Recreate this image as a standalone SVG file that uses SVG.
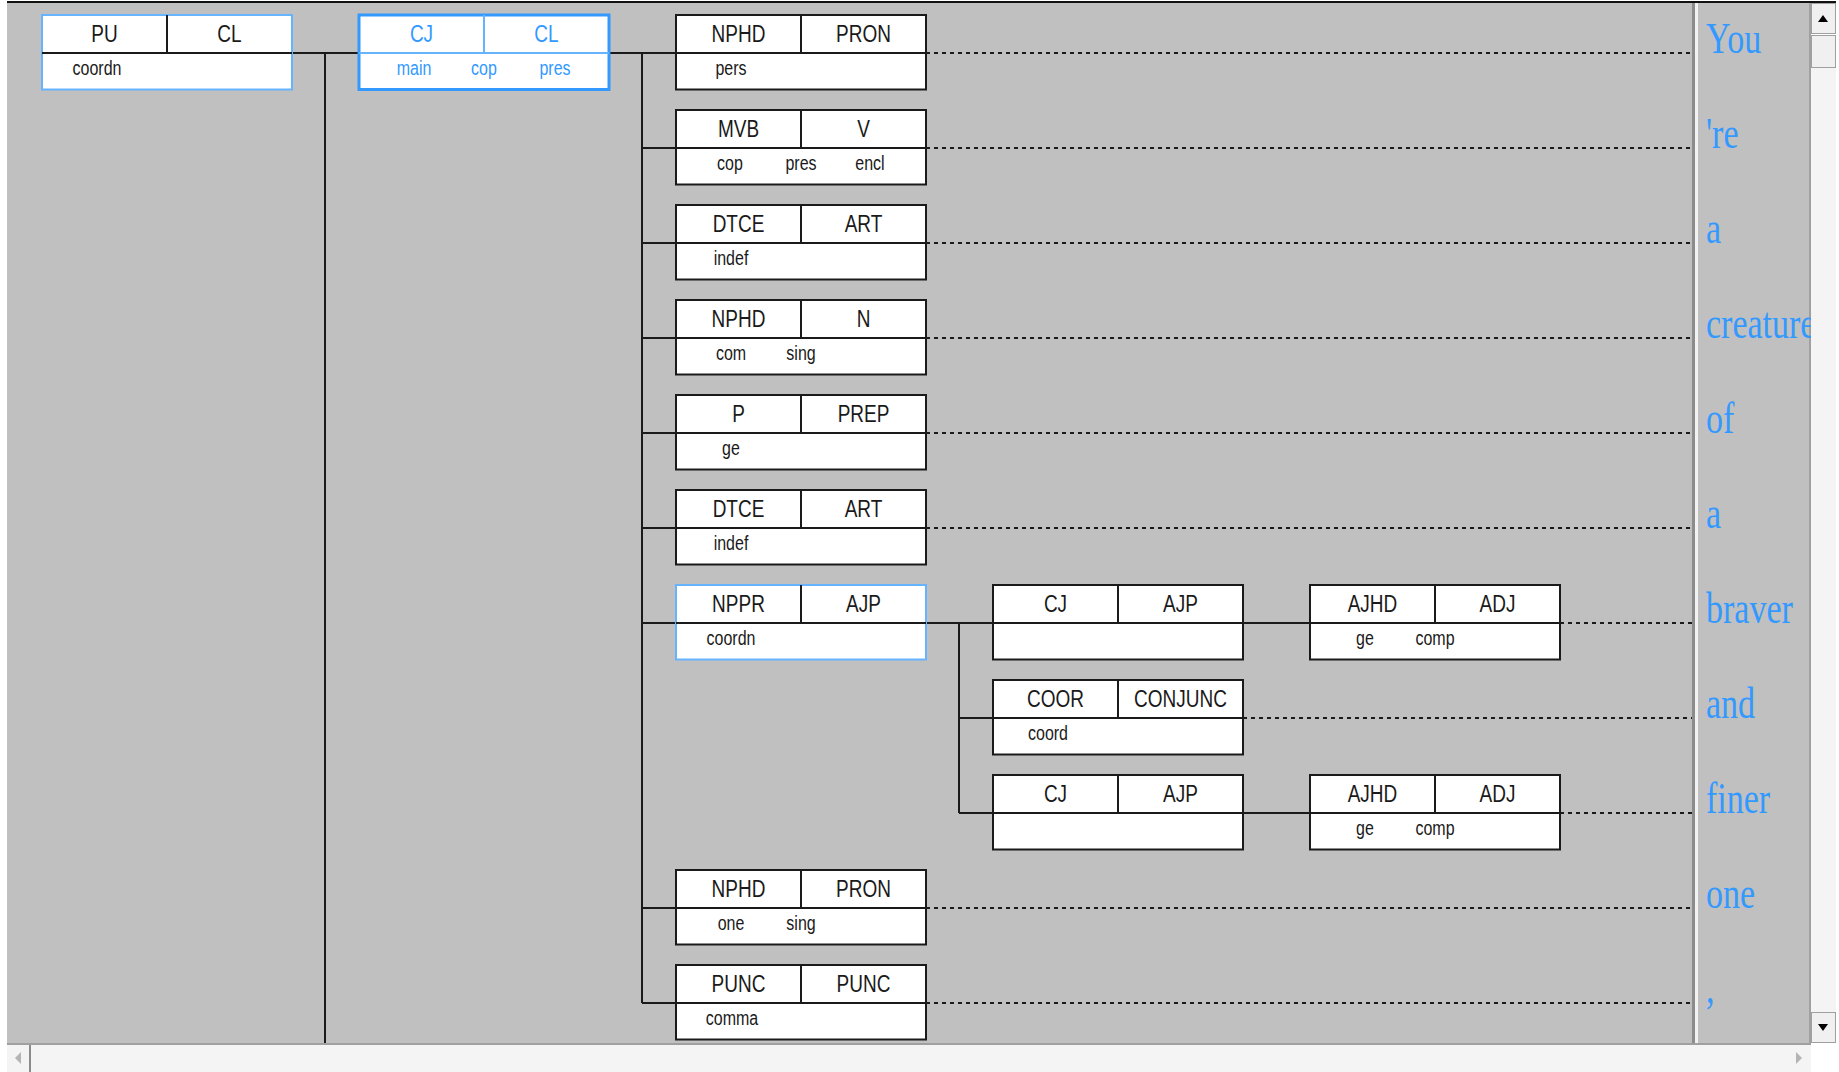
<svg xmlns="http://www.w3.org/2000/svg" width="1839" height="1072" viewBox="0 0 1839 1072">
<style>
.bx{fill:#fff;stroke:#1a1a1a;stroke-width:2}
.sel{stroke:#66b3ff}
.act{stroke:#3399ff;stroke-width:3}
.dv{stroke:#1a1a1a;stroke-width:2}
.dvb{stroke:#66b3ff;stroke-width:2}
.ln{stroke:#1a1a1a;stroke-width:2;fill:none}
.dl{stroke:#1a1a1a;stroke-width:2;fill:none;stroke-dasharray:4 4}
.h{font-family:'Liberation Sans',Arial,sans-serif;font-size:19px;text-anchor:middle;fill:#1a1a1a}
.s{font-family:'Liberation Sans',Arial,sans-serif;font-size:16px;text-anchor:middle;fill:#1a1a1a}
.bt{fill:#3399ff}
.w{font-family:'Liberation Serif','Times New Roman',serif;font-size:34px;fill:#3399ff}
.btn{fill:#f0f0f0;stroke:#a0a0a0;stroke-width:1}
</style>
<rect x="0" y="0" width="1839" height="1072" fill="#ffffff"/>
<rect x="7" y="3" width="1685" height="1040" fill="#c0c0c0"/>
<rect x="1698" y="3" width="113" height="1040" fill="#c0c0c0"/>
<rect x="1692" y="3" width="3" height="1040" fill="#8c8c8c"/>
<rect x="1695" y="3" width="3" height="1040" fill="#f2f2f2"/>
<rect x="1809" y="3" width="2" height="1040" fill="#a0a0a0"/>
<rect x="7" y="1" width="1829" height="2" fill="#111"/>

<g id="connectors">
<path class="ln" d="M292,53H359M325,53V1043"/>
<path class="ln" d="M609,53H676M642,53V1003M642,148H676M642,243H676M642,338H676M642,433H676M642,528H676M642,623H676M642,908H676M642,1003H676"/>
<path class="ln" d="M926,623H993M959,623V813M959,718H993M959,813H993M1243,623H1310M1243,813H1310"/>
<path class="dl" d="M926,53H1692M926,148H1692M926,243H1692M926,338H1692M926,433H1692M926,528H1692M926,908H1692M926,1003H1692M1560,623H1692M1243,718H1692M1560,813H1692"/>
</g>

<g id="n-pu">
<rect class="bx sel" x="42" y="15" width="250" height="74.5"/>
<line class="dv" x1="167" y1="15" x2="167" y2="53"/><line class="dv" x1="42" y1="53" x2="292" y2="53"/>
<text class="h" transform="translate(104.5,42) scale(1,1.27)">PU</text>
<text class="h" transform="translate(229.5,42) scale(1,1.27)">CL</text>
<text class="s" transform="translate(97,75) scale(1,1.27)">coordn</text>
</g>
<g id="n-cj">
<rect class="bx act" x="359" y="15" width="250" height="74.5"/>
<line class="dvb" x1="484" y1="15" x2="484" y2="53"/><line class="dvb" x1="359" y1="53" x2="609" y2="53"/>
<text class="h bt" transform="translate(421.5,42) scale(1,1.27)">CJ</text>
<text class="h bt" transform="translate(546.5,42) scale(1,1.27)">CL</text>
<text class="s bt" transform="translate(414,75) scale(1,1.27)">main</text>
<text class="s bt" transform="translate(484,75) scale(1,1.27)">cop</text>
<text class="s bt" transform="translate(555,75) scale(1,1.27)">pres</text>
</g>

<g id="n-r0">
<rect class="bx" x="676" y="15" width="250" height="74.5"/>
<line class="dv" x1="801" y1="15" x2="801" y2="53"/><line class="dv" x1="676" y1="53" x2="926" y2="53"/>
<text class="h" transform="translate(738.5,42) scale(1,1.27)">NPHD</text>
<text class="h" transform="translate(863.5,42) scale(1,1.27)">PRON</text>
<text class="s" transform="translate(731,75) scale(1,1.27)">pers</text>
</g>
<g id="n-r1">
<rect class="bx" x="676" y="110" width="250" height="74.5"/>
<line class="dv" x1="801" y1="110" x2="801" y2="148"/><line class="dv" x1="676" y1="148" x2="926" y2="148"/>
<text class="h" transform="translate(738.5,137) scale(1,1.27)">MVB</text>
<text class="h" transform="translate(863.5,137) scale(1,1.27)">V</text>
<text class="s" transform="translate(730,170) scale(1,1.27)">cop</text>
<text class="s" transform="translate(801,170) scale(1,1.27)">pres</text>
<text class="s" transform="translate(870,170) scale(1,1.27)">encl</text>
</g>
<g id="n-r2">
<rect class="bx" x="676" y="205" width="250" height="74.5"/>
<line class="dv" x1="801" y1="205" x2="801" y2="243"/><line class="dv" x1="676" y1="243" x2="926" y2="243"/>
<text class="h" transform="translate(738.5,232) scale(1,1.27)">DTCE</text>
<text class="h" transform="translate(863.5,232) scale(1,1.27)">ART</text>
<text class="s" transform="translate(731,265) scale(1,1.27)">indef</text>
</g>
<g id="n-r3">
<rect class="bx" x="676" y="300" width="250" height="74.5"/>
<line class="dv" x1="801" y1="300" x2="801" y2="338"/><line class="dv" x1="676" y1="338" x2="926" y2="338"/>
<text class="h" transform="translate(738.5,327) scale(1,1.27)">NPHD</text>
<text class="h" transform="translate(863.5,327) scale(1,1.27)">N</text>
<text class="s" transform="translate(731,360) scale(1,1.27)">com</text>
<text class="s" transform="translate(801,360) scale(1,1.27)">sing</text>
</g>
<g id="n-r4">
<rect class="bx" x="676" y="395" width="250" height="74.5"/>
<line class="dv" x1="801" y1="395" x2="801" y2="433"/><line class="dv" x1="676" y1="433" x2="926" y2="433"/>
<text class="h" transform="translate(738.5,422) scale(1,1.27)">P</text>
<text class="h" transform="translate(863.5,422) scale(1,1.27)">PREP</text>
<text class="s" transform="translate(731,455) scale(1,1.27)">ge</text>
</g>
<g id="n-r5">
<rect class="bx" x="676" y="490" width="250" height="74.5"/>
<line class="dv" x1="801" y1="490" x2="801" y2="528"/><line class="dv" x1="676" y1="528" x2="926" y2="528"/>
<text class="h" transform="translate(738.5,517) scale(1,1.27)">DTCE</text>
<text class="h" transform="translate(863.5,517) scale(1,1.27)">ART</text>
<text class="s" transform="translate(731,550) scale(1,1.27)">indef</text>
</g>
<g id="n-r6">
<rect class="bx sel" x="676" y="585" width="250" height="74.5"/>
<line class="dv" x1="801" y1="585" x2="801" y2="623"/><line class="dv" x1="676" y1="623" x2="926" y2="623"/>
<text class="h" transform="translate(738.5,612) scale(1,1.27)">NPPR</text>
<text class="h" transform="translate(863.5,612) scale(1,1.27)">AJP</text>
<text class="s" transform="translate(731,645) scale(1,1.27)">coordn</text>
</g>
<g id="n-r6-cj">
<rect class="bx" x="993" y="585" width="250" height="74.5"/>
<line class="dv" x1="1118" y1="585" x2="1118" y2="623"/><line class="dv" x1="993" y1="623" x2="1243" y2="623"/>
<text class="h" transform="translate(1055.5,612) scale(1,1.27)">CJ</text>
<text class="h" transform="translate(1180.5,612) scale(1,1.27)">AJP</text>
</g>
<g id="n-r6-ajhd">
<rect class="bx" x="1310" y="585" width="250" height="74.5"/>
<line class="dv" x1="1435" y1="585" x2="1435" y2="623"/><line class="dv" x1="1310" y1="623" x2="1560" y2="623"/>
<text class="h" transform="translate(1372.5,612) scale(1,1.27)">AJHD</text>
<text class="h" transform="translate(1497.5,612) scale(1,1.27)">ADJ</text>
<text class="s" transform="translate(1365,645) scale(1,1.27)">ge</text>
<text class="s" transform="translate(1435,645) scale(1,1.27)">comp</text>
</g>
<g id="n-r7-coor">
<rect class="bx" x="993" y="680" width="250" height="74.5"/>
<line class="dv" x1="1118" y1="680" x2="1118" y2="718"/><line class="dv" x1="993" y1="718" x2="1243" y2="718"/>
<text class="h" transform="translate(1055.5,707) scale(1,1.27)">COOR</text>
<text class="h" transform="translate(1180.5,707) scale(1,1.27)">CONJUNC</text>
<text class="s" transform="translate(1048,740) scale(1,1.27)">coord</text>
</g>
<g id="n-r8-cj">
<rect class="bx" x="993" y="775" width="250" height="74.5"/>
<line class="dv" x1="1118" y1="775" x2="1118" y2="813"/><line class="dv" x1="993" y1="813" x2="1243" y2="813"/>
<text class="h" transform="translate(1055.5,802) scale(1,1.27)">CJ</text>
<text class="h" transform="translate(1180.5,802) scale(1,1.27)">AJP</text>
</g>
<g id="n-r8-ajhd">
<rect class="bx" x="1310" y="775" width="250" height="74.5"/>
<line class="dv" x1="1435" y1="775" x2="1435" y2="813"/><line class="dv" x1="1310" y1="813" x2="1560" y2="813"/>
<text class="h" transform="translate(1372.5,802) scale(1,1.27)">AJHD</text>
<text class="h" transform="translate(1497.5,802) scale(1,1.27)">ADJ</text>
<text class="s" transform="translate(1365,835) scale(1,1.27)">ge</text>
<text class="s" transform="translate(1435,835) scale(1,1.27)">comp</text>
</g>
<g id="n-r9">
<rect class="bx" x="676" y="870" width="250" height="74.5"/>
<line class="dv" x1="801" y1="870" x2="801" y2="908"/><line class="dv" x1="676" y1="908" x2="926" y2="908"/>
<text class="h" transform="translate(738.5,897) scale(1,1.27)">NPHD</text>
<text class="h" transform="translate(863.5,897) scale(1,1.27)">PRON</text>
<text class="s" transform="translate(731,930) scale(1,1.27)">one</text>
<text class="s" transform="translate(801,930) scale(1,1.27)">sing</text>
</g>
<g id="n-r10">
<rect class="bx" x="676" y="965" width="250" height="74.5"/>
<line class="dv" x1="801" y1="965" x2="801" y2="1003"/><line class="dv" x1="676" y1="1003" x2="926" y2="1003"/>
<text class="h" transform="translate(738.5,992) scale(1,1.27)">PUNC</text>
<text class="h" transform="translate(863.5,992) scale(1,1.27)">PUNC</text>
<text class="s" transform="translate(732,1025) scale(1,1.27)">comma</text>
</g>

<g id="words">
<text class="w" transform="translate(1706,53) scale(1,1.3)">You</text>
<text class="w" transform="translate(1706,148) scale(1,1.3)">'re</text>
<text class="w" transform="translate(1706,243) scale(1,1.3)">a</text>
<text class="w" transform="translate(1706,338) scale(1,1.3)">creature</text>
<text class="w" transform="translate(1706,433) scale(1,1.3)">of</text>
<text class="w" transform="translate(1706,528) scale(1,1.3)">a</text>
<text class="w" transform="translate(1706,623) scale(1,1.3)">braver</text>
<text class="w" transform="translate(1706,718) scale(1,1.3)">and</text>
<text class="w" transform="translate(1706,813) scale(1,1.3)">finer</text>
<text class="w" transform="translate(1706,908) scale(1,1.3)">one</text>
<text class="w" transform="translate(1706,1003) scale(1,1.3)">,</text>
</g>

<g id="scrollbars">
<rect x="1811" y="3" width="28" height="1069" fill="#ffffff"/>
<rect x="1811" y="67" width="25" height="946" fill="#f4f4f4"/>
<rect class="btn" x="1811.5" y="3.5" width="24" height="30"/>
<polygon points="1818,22 1828,22 1823,15" fill="#000"/>
<rect class="btn" x="1811.5" y="35.5" width="24" height="32"/>
<rect class="btn" x="1811.5" y="1012.5" width="24" height="30"/>
<polygon points="1818,1024 1828,1024 1823,1031" fill="#000"/>
<rect x="7" y="1043" width="1804" height="2" fill="#a0a0a0"/>
<rect x="7" y="1045" width="1804" height="27" fill="#f4f4f4"/>
<rect x="29" y="1045" width="2" height="27" fill="#8c8c8c"/>
<polygon points="21,1052 21,1064 15,1058" fill="#b4b4b4"/>
<polygon points="1796,1052 1796,1064 1802,1058" fill="#b4b4b4"/>
</g>
</svg>
